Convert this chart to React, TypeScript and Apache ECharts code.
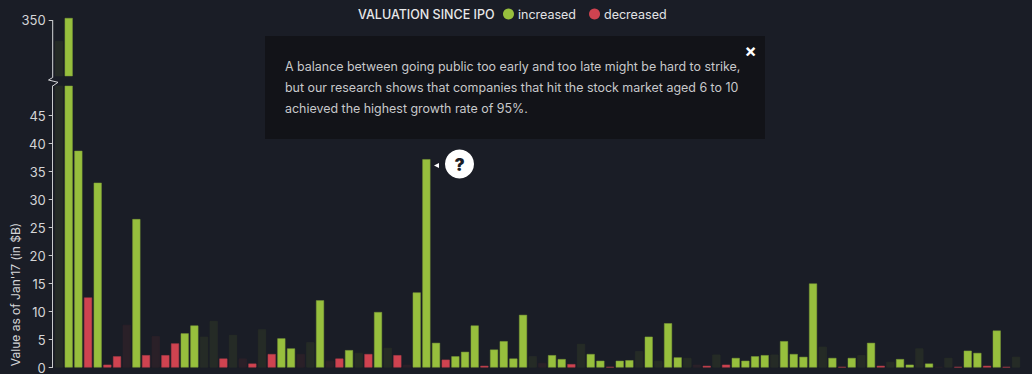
import React, { useEffect, useRef } from "react";
import * as echarts from "echarts";

const BG = "#1a1d26";
const FONT = "Inter";

// Value as of Jan'17 (in $B), one per company
const values = [
  329, 352, 38.7, 12.5, 33, 0.5, 2.0, 7.6, 26.5, 2.2,
  5.6, 2.2, 4.3, 6.1, 7.5, 5.5, 8.3, 1.6, 5.8, 1.6,
  0.7, 6.8, 2.4, 5.2, 3.4, 2.4, 4.5, 12, 1.2, 1.6,
  3.1, 2.6, 2.4, 9.9, 3.5, 2.2, 0.5, 13.4, 37.2, 4.4,
  1.4, 2.0, 2.8, 7.5, 0.3, 3.2, 4.7, 1.6, 9.4, 2.0,
  0.8, 2.2, 1.5, 0.6, 4.2, 2.4, 1.2, 0.1, 1.2, 1.3,
  2.9, 5.5, 1.2, 7.9, 1.8, 1.7, 0.5, 0.3, 2.3, 0.5,
  1.7, 1.2, 2.0, 2.2, 2.3, 4.7, 2.4, 1.9, 15, 3.7,
  1.7, 0.1, 1.7, 2.2, 4.4, 0.3, 1.0, 1.5, 0.5, 3.4,
  0.7, 0.1, 1.7, 0.1, 3.0, 2.6, 0.3, 6.6, 0.1, 1.9,
];
// i = increased, d = decreased; capitals are the faded (not highlighted) bars
const states = (
  "IiididdDid" +
  "DddiiIIdID" +
  "dIdiiDIiDd" +
  "iIdiIdDiii" +
  "diiidiiiiI" +
  "DiidIiidii" +
  "IiIiiIDdId" +
  "iiiiIiiiiI" +
  "idiIidIiiI" +
  "iDIdiididI"
).split("");
const categories = values.map((_, i) => String(i + 1));
const lowerTicks = [0, 5, 10, 15, 20, 25, 30, 35, 40, 45];
const upperTicks = [350];
const legendTitle = "VALUATION SINCE IPO";
const axisTitle = "Value as of Jan'17 (in $B)";
const noteLines = [
  "A balance between going public too early and too late might be hard to strike,",
  "but our research shows that companies that hit the stock market aged 6 to 10",
  "achieved the highest growth rate of 95%.",
];

const groups = [
  { code: "i", name: "increased", fill: "#97bf3d", border: "#7f9f38" },
  { code: "d", name: "decreased", fill: "#cf4350", border: "#b03f4b" },
  { code: "I", name: "increased, faded", fill: "#252b26", border: "#2a3029" },
  { code: "D", name: "decreased, faded", fill: "#2a2028", border: "#2f232b" },
];

const UPPER_MIN = 294;

function buildOption() {
  const series: any[] = [];
  groups.forEach((g) => {
    const lower = values.map((v, i) => (states[i] === g.code ? v : null));
    const upper = values.map((v, i) => (states[i] === g.code && v >= UPPER_MIN ? v : null));
    const base = {
      type: "bar",
      name: g.name,
      barWidth: 8,
      barGap: "-100%",
      clip: true,
      itemStyle: { color: g.fill, borderColor: g.border, borderWidth: 0.5 },
      emphasis: { disabled: true },
    };
    series.push({ ...base, xAxisIndex: 0, yAxisIndex: 0, data: lower });
    series.push({ ...base, xAxisIndex: 1, yAxisIndex: 1, data: upper });
  });

  const yCommon = {
    type: "value",
    offset: 1.5,
    splitLine: { show: false },
    axisLine: { show: true, onZero: false, lineStyle: { color: "#c9cacc", width: 1 } },
    axisTick: { show: true, length: 4, lineStyle: { color: "#c9cacc" } },
    axisLabel: { color: "#d4d5d7", fontSize: 13, fontFamily: FONT, margin: 7 },
  };

  return {
    animation: false,
    backgroundColor: BG,
    grid: [
      { left: 54.2, width: 966.7, top: 86, height: 281.5 },
      { left: 54.2, width: 966.7, top: 17, height: 59 },
    ],
    xAxis: [
      { type: "category", gridIndex: 0, data: categories, show: false },
      { type: "category", gridIndex: 1, data: categories, show: false },
    ],
    yAxis: [
      {
        ...yCommon,
        gridIndex: 0,
        min: 0,
        max: 50.27,
        axisTick: { ...yCommon.axisTick, customValues: lowerTicks },
        axisLabel: { ...yCommon.axisLabel, customValues: lowerTicks },
      },
      {
        ...yCommon,
        gridIndex: 1,
        min: UPPER_MIN,
        max: 353,
        axisLine: { show: false },
        axisTick: { ...yCommon.axisTick, customValues: upperTicks },
        axisLabel: { ...yCommon.axisLabel, customValues: upperTicks },
      },
    ],
    legend: {
      left: 498,
      top: 2.5,
      data: ["increased", "decreased"],
      icon: "circle",
      itemWidth: 11,
      itemHeight: 11,
      itemGap: 13,
      selectedMode: false,
      itemStyle: { borderWidth: 0 },
      textStyle: { color: "#e2e3e5", fontSize: 12.5, fontFamily: FONT, padding: [0, 0, 0, -1] },
    },
    series,
    graphic: [
      {
        type: "polyline",
        silent: true,
        shape: { points: [[52.7, 20], [52.7, 77.5], [48.5, 80], [58, 82.3], [52.7, 86]] },
        style: { stroke: "#d6d7d9", lineWidth: 1, fill: "none" },
      },
      {
        type: "text",
        x: 15.5,
        y: 294.5,
        rotation: Math.PI / 2,
        style: {
          text: axisTitle,
          fill: "#d4d5d7",
          font: `12px ${FONT}`,
          align: "center",
          verticalAlign: "middle",
        },
      },
      {
        type: "text",
        x: 358,
        y: 14.5,
        style: {
          text: legendTitle,
          fill: "#e8e9ea",
          font: `500 12.5px ${FONT}`,
          verticalAlign: "middle",
        },
      },
      {
        type: "rect",
        silent: true,
        shape: { x: 265, y: 36, width: 500, height: 103 },
        style: { fill: "#121318" },
      },
      ...noteLines.map((line, i) => ({
        type: "text",
        x: 285,
        y: 66.5 + i * 21.2,
        style: {
          text: line,
          fill: "#c8c9cb",
          font: `12.45px ${FONT}`,
          verticalAlign: "middle",
        },
      })),
      {
        type: "text",
        x: 750.5,
        y: 50,
        style: {
          text: "×",
          fill: "#ffffff",
          font: `bold 18px ${FONT}`,
          align: "center",
          verticalAlign: "middle",
        },
      },
      {
        type: "polygon",
        silent: true,
        shape: { points: [[434, 165.5], [439, 163], [439, 168]] },
        style: { fill: "#ffffff" },
      },
      {
        type: "circle",
        silent: true,
        shape: { cx: 459.5, cy: 164, r: 14.5 },
        style: { fill: "#ffffff" },
      },
      {
        type: "text",
        x: 459.5,
        y: 164.5,
        style: {
          text: "?",
          fill: "#1a1d26",
          font: `900 17px ${FONT}`,
          align: "center",
          verticalAlign: "middle",
        },
      },
    ],
  };
}

export default function App() {
  const ref = useRef<HTMLDivElement>(null);
  useEffect(() => {
    document.body.style.margin = "0";
    document.body.style.background = BG;
    const chart = echarts.init(ref.current!, undefined, { renderer: "svg" });
    chart.setOption(buildOption());
    return () => chart.dispose();
  }, []);
  return <div ref={ref} style={{ width: 1032, height: 374 }} />;
}
